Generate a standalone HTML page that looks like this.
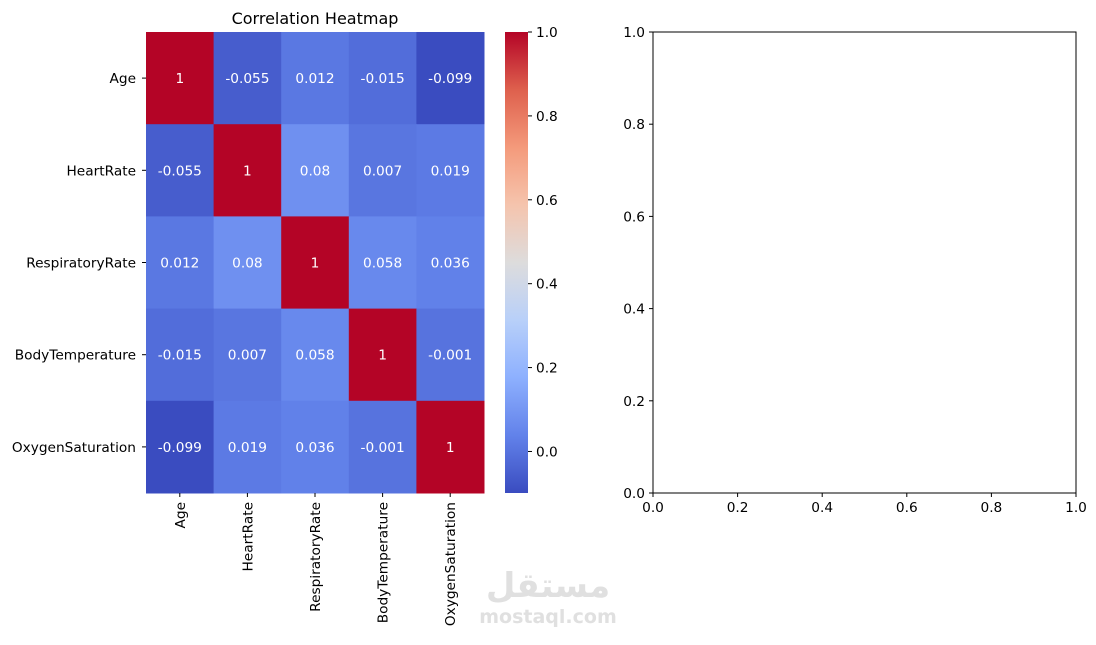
<!DOCTYPE html>
<html><head><meta charset="utf-8"><style>
body{margin:0;background:#fff}
svg text{font-family:"DejaVu Sans","Liberation Sans",sans-serif;font-size:13.7px}
</style></head><body>
<svg id="c" width="1096" height="640" xmlns="http://www.w3.org/2000/svg">
<defs><linearGradient id="cg" x1="0" y1="1" x2="0" y2="0"></linearGradient></defs>
<text x="315" y="24" text-anchor="middle" style="font-size:16px">Correlation Heatmap</text>
<g id="hm"></g>
<g id="cb"></g>
<g id="ax2"></g>
<text x="548" y="597" text-anchor="middle" fill="#e0e0e0" style="font-size:34px;font-weight:bold" font-family="Liberation Sans, sans-serif">مستقل</text>
<text x="548" y="623" text-anchor="middle" fill="#e0e0e0" style="font-size:19px;font-weight:bold">mostaql.com</text>
</svg>
<script>
const labels=["Age","HeartRate","RespiratoryRate","BodyTemperature","OxygenSaturation"];
const row0=[1,-0.055,0.012,-0.015,-0.099];
const row1=[-0.055,1,0.08,0.007,0.019];
const row2=[0.012,0.08,1,0.058,0.036];
const row3=[-0.015,0.007,0.058,1,-0.001];
const row4=[-0.099,0.019,0.036,-0.001,1];
const cbTicks=[0,0.2,0.4,0.6,0.8,1.0];
const axTicks=[0,0.2,0.4,0.6,0.8,1.0];
const matrix=[row0,row1,row2,row3,row4];
const vmin=-0.099,vmax=1;
const stops=[[58,76,192],[98,130,234],[141,176,254],[184,208,249],[221,220,220],[245,196,173],[244,154,123],[222,96,77],[180,4,38]];
function cmap(v){let t=(v-vmin)/(vmax-vmin);t=Math.max(0,Math.min(1,t))*8;const i=Math.min(7,Math.floor(t)),f=t-i;
const a=stops[i],b=stops[i+1];return `rgb(${a.map((x,k)=>Math.round(x+(b[k]-x)*f)).join(',')})`;}
const NS="http://www.w3.org/2000/svg";
function mk(tag,at,parent,txt){const e=document.createElementNS(NS,tag);for(const k in at)e.setAttribute(k,at[k]);if(txt!==undefined)e.textContent=txt;parent.appendChild(e);return e;}
const X0=146,X1=484,Y0=32,Y1=493,n=labels.length,cw=(X1-X0)/n,ch=(Y1-Y0)/n;
const hm=document.getElementById('hm');
matrix.forEach((row,r)=>row.forEach((v,c)=>{
 const rc=mk('rect',{x:X0+c*cw,y:Y0+r*ch,width:cw+0.5,height:ch+0.5,fill:cmap(v)},hm);
 
 
 const t=mk('text',{x:X0+(c+0.5)*cw,y:Y0+(r+0.5)*ch+5,'text-anchor':'middle',fill:'#fff'},hm,String(v));
 
 
}));
labels.forEach((l,i)=>{
 const y=Y0+(i+0.5)*ch;
 mk('line',{x1:X0-4,x2:X0,y1:y,y2:y,stroke:'#000'},hm);
 const t=mk('text',{x:X0-10,y:y+5,'text-anchor':'end'},hm,l);
 
 
 const x=X0+(i+0.5)*cw;
 mk('line',{x1:x,x2:x,y1:Y1,y2:Y1+4,stroke:'#000'},hm);
 const u=mk('text',{x:0,y:0,'text-anchor':'end',transform:`translate(${x+5},${Y1+9}) rotate(-90)`},hm,l);
 
 
});
const g=document.getElementById('cg');
for(let i=0;i<=16;i++){const v=vmin+(vmax-vmin)*i/16;mk('stop',{offset:(i/16),'stop-color':cmap(v)},g);}
const cb=document.getElementById('cb');
const CX0=505,CX1=528;
const cy=v=>Y1-(v-vmin)/(vmax-vmin)*(Y1-Y0);
mk('rect',{x:CX0,y:Y0,width:CX1-CX0,height:Y1-Y0,fill:'url(#cg)'},cb);
cbTicks.forEach(v=>{const y=cy(v);mk('line',{x1:CX1,x2:CX1+4,y1:y,y2:y,stroke:'#000'},cb);
 const t=mk('text',{x:CX1+8,y:y+5},cb,v.toFixed(1));
 
 });
const ax=document.getElementById('ax2');
const AX0=653,AX1=1076;
mk('rect',{x:AX0,y:Y0,width:AX1-AX0,height:Y1-Y0,fill:'none',stroke:'#000','stroke-width':1},ax);
axTicks.forEach(v=>{
 const x=AX0+v*(AX1-AX0),y=Y1-v*(Y1-Y0);
 mk('line',{x1:x,x2:x,y1:Y1,y2:Y1+4,stroke:'#000'},ax);
 const a=mk('text',{x:x,y:Y1+19,'text-anchor':'middle'},ax,v.toFixed(1));
 
 
 mk('line',{x1:AX0-4,x2:AX0,y1:y,y2:y,stroke:'#000'},ax);
 const b=mk('text',{x:AX0-8,y:y+5,'text-anchor':'end'},ax,v.toFixed(1));
 
 
});
</script>
</body></html>
